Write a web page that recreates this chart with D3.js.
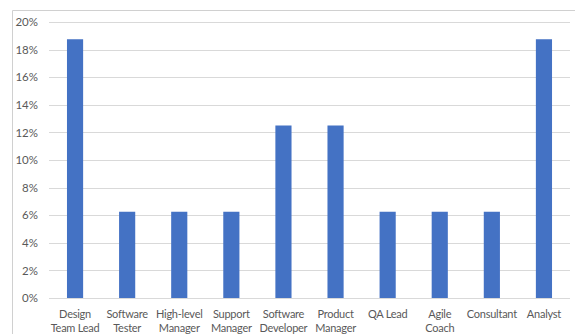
<!DOCTYPE html>
<html>
<head>
<meta charset="utf-8">
<script src="https://cdn.jsdelivr.net/npm/d3@7"></script>
<style>
  html, body { margin: 0; padding: 0; background: #fff; }
  svg { display: block; }
</style>
</head>
<body>
<svg id="chart" width="575" height="334"></svg>
<script>
// Share of respondents by role
const categories = [
  ["Design", "Team Lead"],
  ["Software", "Tester"],
  ["High-level", "Manager"],
  ["Support", "Manager"],
  ["Software", "Developer"],
  ["Product", "Manager"],
  ["QA Lead"],
  ["Agile", "Coach"],
  ["Consultant"],
  ["Analyst"]
];
const shares = [0.1875, 0.0625, 0.0625, 0.0625, 0.125, 0.125, 0.0625, 0.0625, 0.0625, 0.1875];
const yTicks = [0, 0.02, 0.04, 0.06, 0.08, 0.10, 0.12, 0.14, 0.16, 0.18, 0.20];

const svg = d3.select("#chart");
const font = "Lato, 'Open Sans', sans-serif";
const margin = { left: 49, right: 5, top: 22, bottom: 36 };
const W = 575, H = 334;

// chart area frame (left and top edges visible)
svg.append("path")
  .attr("d", `M12.5,${H} V10.5 H${W}`)
  .attr("fill", "none")
  .attr("stroke", "#d0d0d0")
  .attr("stroke-width", 1);

const x = d3.scaleBand()
  .domain(d3.range(categories.length))
  .range([margin.left, 570])
  .paddingInner(0.69)
  .paddingOuter(0.345);

const y = d3.scaleLinear()
  .domain([0, 0.20])
  .range([298, 22]);

// horizontal gridlines
svg.append("g")
  .selectAll("line")
  .data(yTicks)
  .join("line")
  .attr("x1", margin.left)
  .attr("x2", 570)
  .attr("y1", d => Math.round(y(d)) + 0.5)
  .attr("y2", d => Math.round(y(d)) + 0.5)
  .attr("stroke", "#d9d9d9")
  .attr("stroke-width", 1);

// y axis labels
const yAxis = d3.axisLeft(y)
  .tickValues(yTicks)
  .tickFormat(d3.format(".0%"))
  .tickSize(0)
  .tickPadding(11);
const yg = svg.append("g")
  .attr("transform", `translate(${margin.left},0)`)
  .call(yAxis);
yg.select(".domain").remove();
yg.selectAll("text")
  .attr("font-family", font)
  .attr("font-size", 11.5)
  .attr("fill", "#595959");

// bars
svg.append("g")
  .selectAll("rect")
  .data(shares)
  .join("rect")
  .attr("x", (d, i) => x(i))
  .attr("width", x.bandwidth())
  .attr("y", d => y(d))
  .attr("height", d => y(0) - y(d))
  .attr("fill", "#4472c4");

// x axis baseline
svg.append("line")
  .attr("x1", margin.left).attr("x2", 570)
  .attr("y1", Math.round(y(0)) + 0.5).attr("y2", Math.round(y(0)) + 0.5)
  .attr("stroke", "#d9d9d9");

// category labels (wrapped on two lines)
const xl = svg.append("g")
  .selectAll("text")
  .data(categories)
  .join("text")
  .attr("x", (d, i) => x(i) + x.bandwidth() / 2)
  .attr("y", 318)
  .attr("text-anchor", "middle")
  .attr("font-family", font)
  .attr("font-size", 11)
  .attr("letter-spacing", -0.25)
  .attr("fill", "#595959");
xl.selectAll("tspan")
  .data(d => d)
  .join("tspan")
  .attr("x", function () { return this.parentNode.getAttribute("x"); })
  .attr("dy", (d, i) => i === 0 ? 0 : 14)
  .text(d => d);
</script>
</body>
</html>
